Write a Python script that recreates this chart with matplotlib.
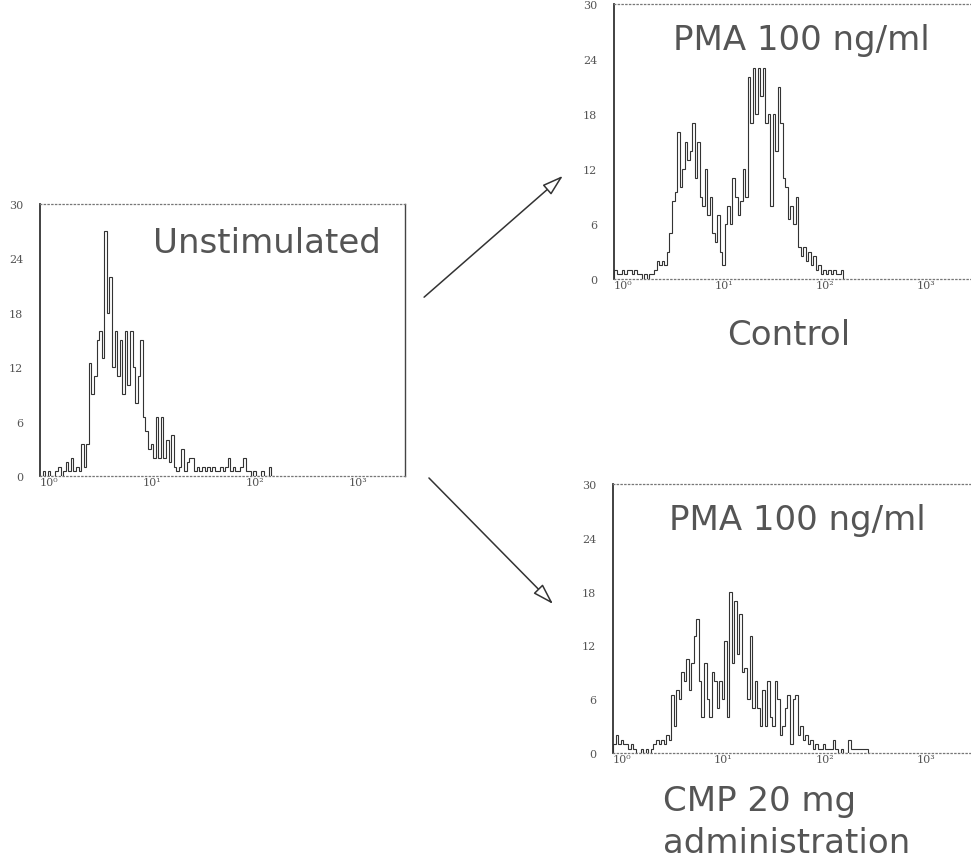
import numpy as np
import matplotlib
matplotlib.use("Agg")
import matplotlib.pyplot as plt
from matplotlib.patches import FancyArrowPatch

# ---------------- data (counts per channel, 40 channels per decade, from 10^0) ----
unstim_counts = [0, 0.5, 0, 0.5, 0, 0, 0.5, 1, 0, 0.5, 1.5, 0.5, 2, 0.5, 1, 0.5,
                 3.5, 1, 3.5, 12.5, 9, 11, 15, 16, 13, 27, 18, 22, 12, 16, 11, 15,
                 9, 16, 10, 16, 12, 8, 11, 15, 6.5, 5, 3, 3.5, 2, 6.5, 2, 6.5,
                 2, 4, 1.5, 4.5, 1, 0.5, 1, 3, 0.5, 1.5, 2, 2, 0.5, 1, 0.5, 1,
                 0.5, 1, 0.5, 1, 0.5, 0.5, 1, 0.5, 1, 2, 0.5, 1, 0.5, 0.5, 1, 2,
                 0.5, 0.5, 0, 0.5, 0, 0, 0.5, 0, 0, 1, 0]

control_counts = [1, 0.5, 0.5, 1, 0.5, 1, 1, 0.5, 1, 0.5, 0.5, 0, 0.5, 0, 0.5, 0.5,
                  1, 2, 1.5, 2, 1.5, 3, 5, 8.5, 9.5, 16, 10, 12, 15, 13, 14, 17,
                  11, 15, 9, 8, 12, 7, 9, 5, 4, 7, 3, 1.5, 6, 8, 6, 11,
                  9, 7, 8.5, 12, 9, 22, 17, 23, 18, 23, 20, 23, 17, 18, 8, 18,
                  14, 21, 17, 11, 10, 6.5, 8, 6, 9, 3.5, 2.5, 3.5, 2, 3, 1.5, 2.5,
                  1, 1.5, 0.5, 1, 0.5, 1, 0.5, 1, 0.5, 0.5, 1, 0]

cmp_counts = [1, 2, 1, 1.5, 1, 1, 0.5, 1, 0.5, 0, 0, 0.5, 0, 0.5, 0, 0.5,
              1, 1.5, 1, 1.5, 1, 2, 1.5, 6.5, 3, 7, 6, 9, 8, 10.5, 7, 10,
              13, 15, 8, 4, 10, 6, 4, 9, 8, 5, 8, 6, 12.5, 4, 18, 10,
              17, 11, 15.5, 9, 9.5, 6, 13, 5, 8, 5, 3, 7, 3, 8,
              4, 3, 8, 6, 2, 3, 5, 6.5, 1, 6, 6.5, 2, 3, 1.5, 2, 1,
              1.5, 0.5, 1, 0.5, 0.5, 1, 0.5, 0.5, 0.5, 1.5, 0.5, 0, 0.5, 0, 0, 1.5,
              0.5, 0.5, 0.5, 0.5, 0.5, 0.5, 0.5, 0]

channels_per_decade = 40
y_ticks = [0, 6, 12, 18, 24, 30]
x_ticks = [1, 10, 100, 1000]
x_tick_labels = ["10\u2070", "10\u00b9", "10\u00b2", "10\u00b3"]
panel_titles = ["Unstimulated", "PMA 100 ng/ml", "PMA 100 ng/ml"]

# ---------------- figure -----------------------------------------------------------
W, H = 971, 862
fig = plt.figure(figsize=(W / 100, H / 100), dpi=100)
plt.rcParams['font.family'] = ['DejaVu Sans']

def px_axes(left, top, right, bottom):
    return fig.add_axes([left / W, 1 - bottom / H, (right - left) / W, (bottom - top) / H])

line_col = '#333333'
text_col = '#555555'
TITLE_FS = 24.5

def hist_panel(ax, counts, title, title_xy, right_spine=True):
    edges = 10 ** (np.arange(len(counts) + 1) / channels_per_decade)
    ax.stairs(counts, edges, color=line_col, lw=0.8)
    ax.set_xscale('log')
    ax.set_xlim(1, 10 ** 3.55)
    ax.set_ylim(0, 30)
    ax.set_xticks(x_ticks)
    ax.set_xticklabels(x_tick_labels, fontsize=8, color=text_col, ha='left',
                       family='DejaVu Serif')
    ax.xaxis.set_minor_locator(matplotlib.ticker.NullLocator())
    ax.set_yticks(y_ticks)
    ax.set_yticklabels([str(v) for v in y_ticks], fontsize=8, color=text_col,
                       family='DejaVu Serif')
    ax.tick_params(axis='both', length=0)
    ax.tick_params(axis='y', pad=12)
    ax.tick_params(axis='x', pad=1)
    ax.spines['left'].set_color('#333333')
    ax.spines['left'].set_linewidth(1.3)
    for s in ('top', 'bottom'):
        ax.spines[s].set_color('#777777')
        ax.spines[s].set_linestyle((0, (1, 2)))
        ax.spines[s].set_linewidth(0.9)
    if right_spine:
        ax.spines['right'].set_color('#444444')
        ax.spines['right'].set_linewidth(1.0)
    else:
        ax.spines['right'].set_visible(False)
    ax.patch.set_alpha(0)
    fig.text(title_xy[0] / W, 1 - title_xy[1] / H, title, fontsize=TITLE_FS,
             color=text_col, ha='left', va='baseline')

ax1 = px_axes(40, 205, 405, 477)
hist_panel(ax1, unstim_counts, panel_titles[0], (153, 253))

ax2 = px_axes(614, 5, 972, 280)
hist_panel(ax2, control_counts, panel_titles[1], (673, 50), right_spine=False)

ax3 = px_axes(613, 485, 972, 754)
hist_panel(ax3, cmp_counts, panel_titles[2], (669, 530), right_spine=False)

# captions
fig.text(727 / W, 1 - 345 / H, "Control", fontsize=TITLE_FS, color=text_col,
         ha='left', va='baseline')
fig.text(663 / W, 1 - 811 / H, "CMP 20 mg", fontsize=TITLE_FS, color=text_col,
         ha='left', va='baseline')
fig.text(663 / W, 1 - 853 / H, "administration", fontsize=TITLE_FS, color=text_col,
         ha='left', va='baseline')

# arrows
def px(x, y):
    return (x / W, 1 - y / H)

for start, end in [((422, 300), (565, 175)), ((427, 477), (555, 607))]:
    arr = FancyArrowPatch(px(*start), px(*end), transform=fig.transFigure,
                          arrowstyle='-|>,head_length=13,head_width=4',
                          edgecolor='#333333', facecolor='white', lw=1.1,
                          mutation_scale=1)
    fig.patches.append(arr)

fig.savefig("out.png", dpi=100, facecolor='white')
